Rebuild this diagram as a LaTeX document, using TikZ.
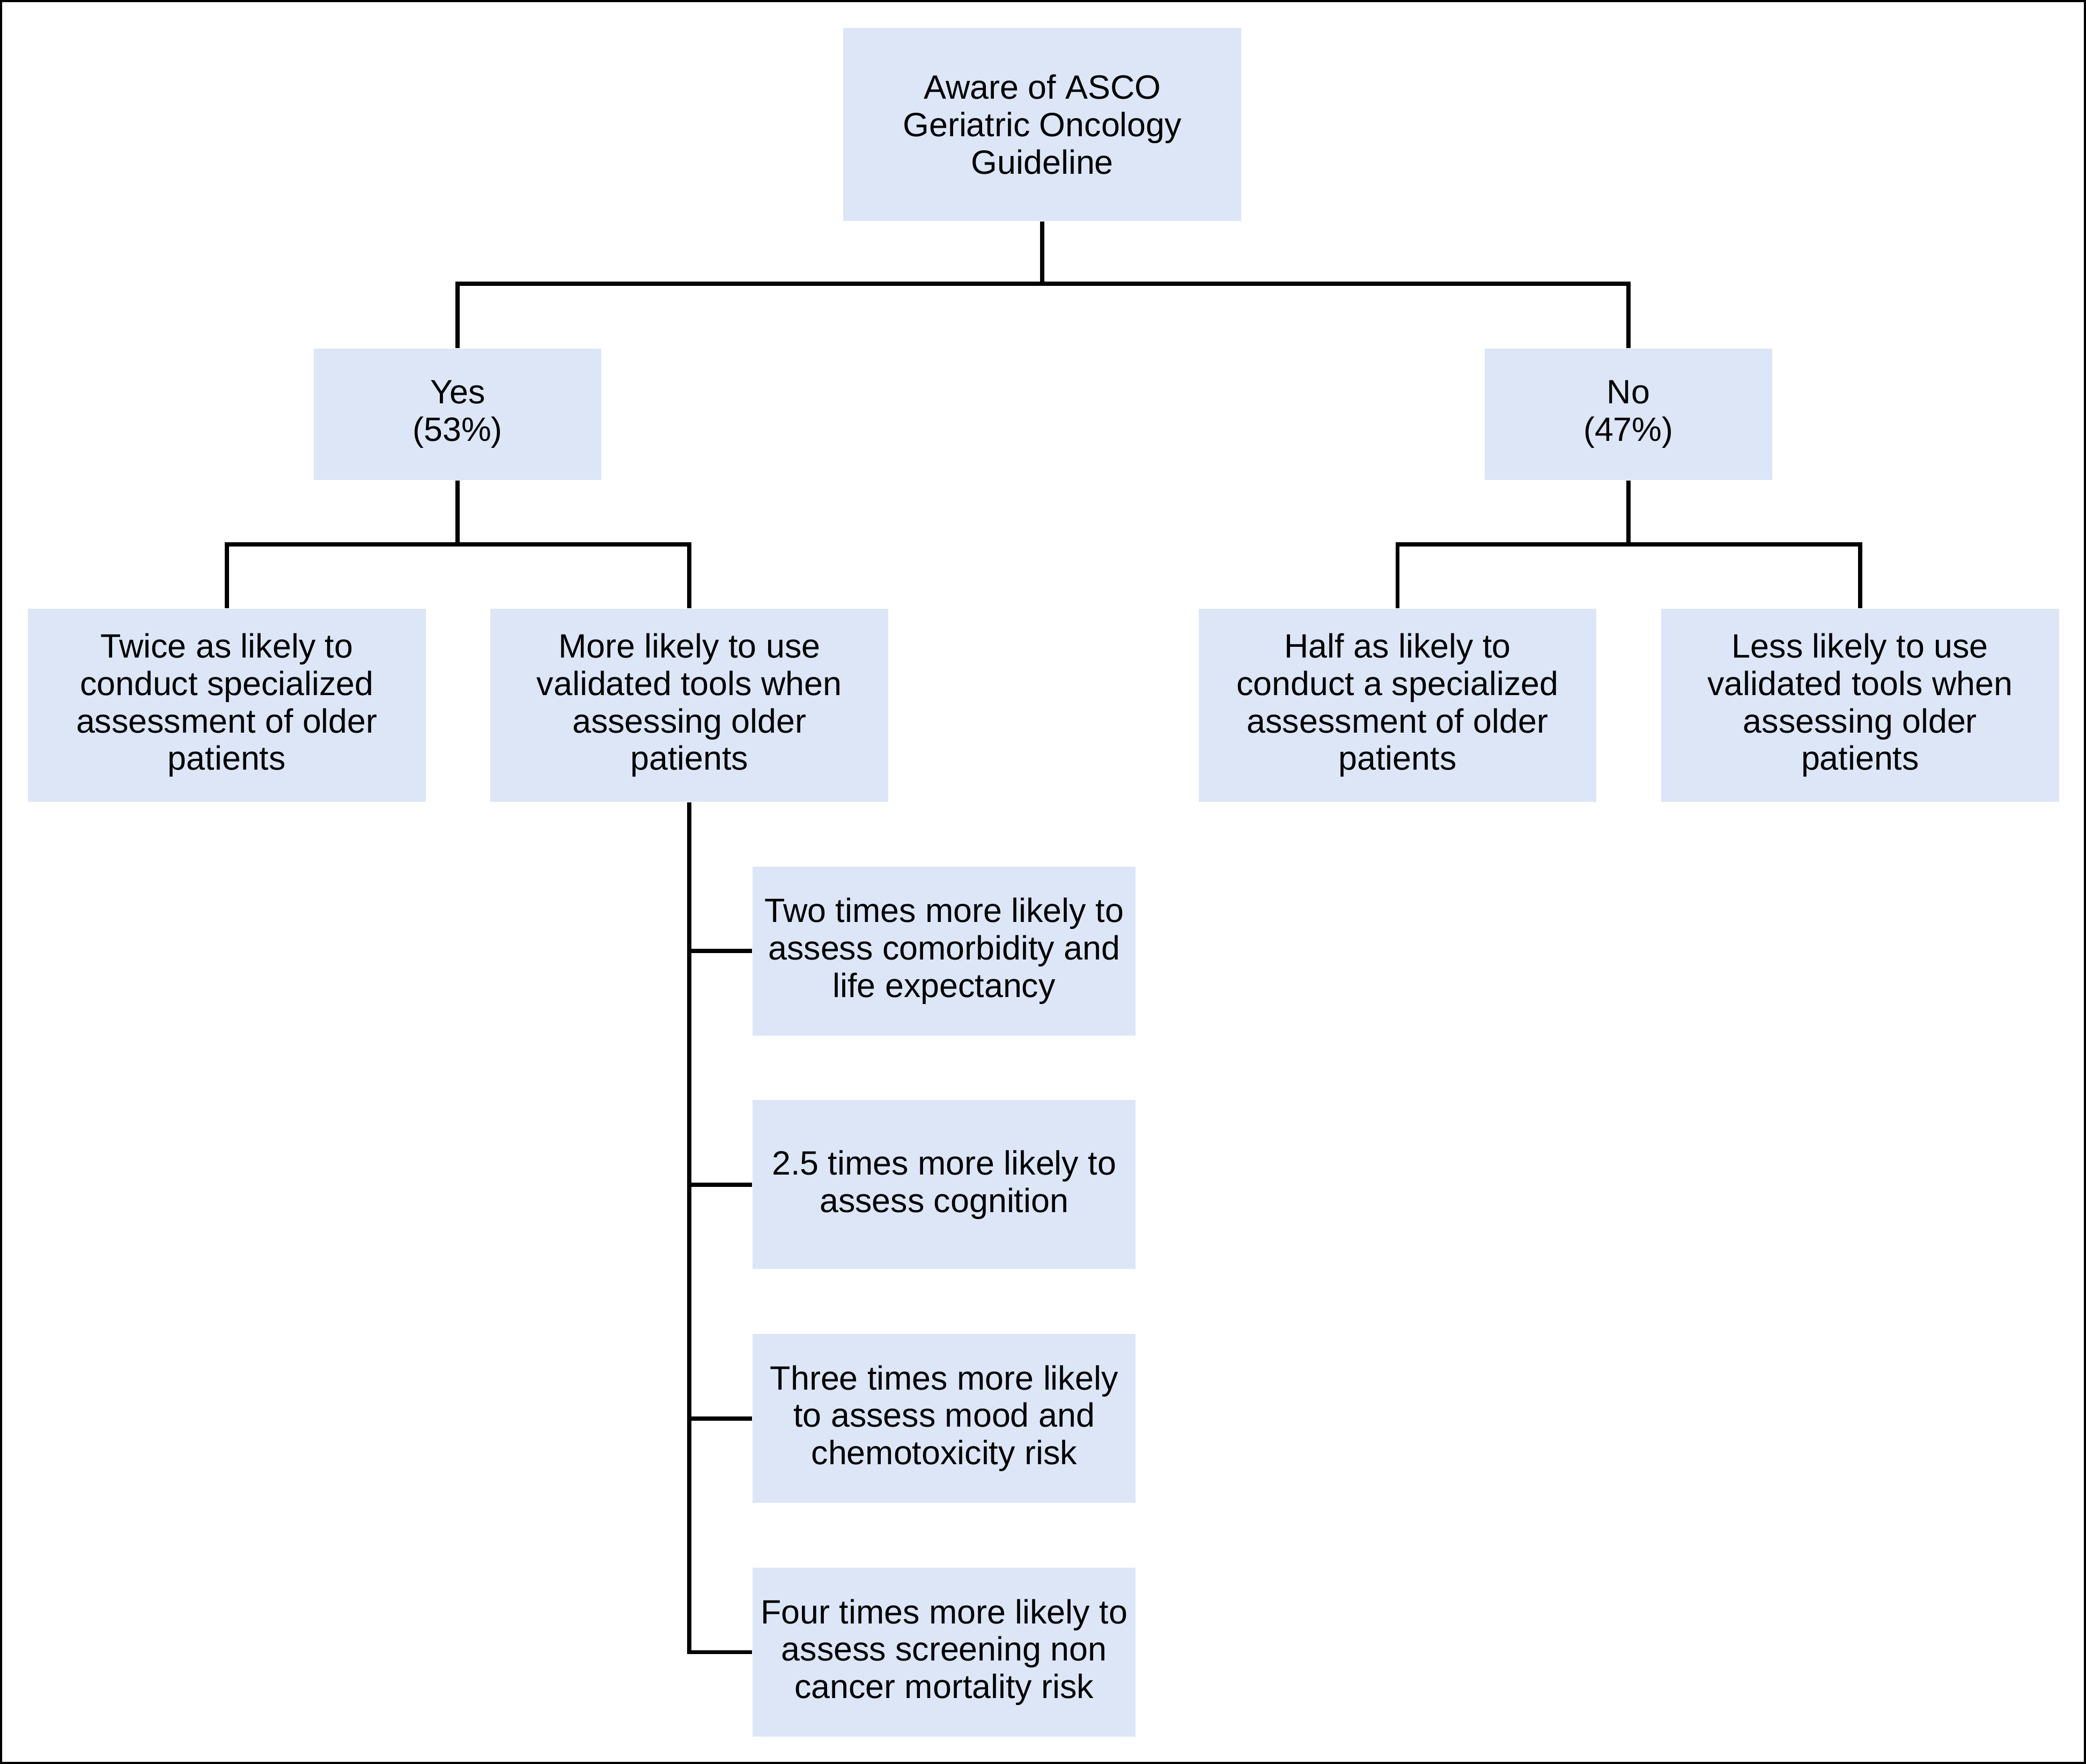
\documentclass[tikz,border=0pt]{standalone}
\usepackage{fontspec}
\setmainfont{Liberation Sans}
\usepackage{tikz}
\usetikzlibrary{positioning}

\definecolor{boxblue}{HTML}{DCE6F7}

\begin{document}
\begin{tikzpicture}[
  font=\fontsize{14.4pt}{16pt}\selectfont,
  box/.style={fill=boxblue, minimum width=5.98cm, minimum height=2.9cm, align=center, inner sep=1pt},
  ans/.style={box, minimum width=4.32cm, minimum height=1.98cm},
  sub/.style={box, minimum width=5.76cm, minimum height=2.54cm},
  link/.style={line width=1.8pt},
  node distance=1.92cm and 0.96cm
]
\useasboundingbox (0,0) rectangle (31.36,-26.52);
\draw[line width=0.9pt] (0.016,-0.016) rectangle (31.344,-26.504);

% ---------- TOP ----------
\node[box] (aware) at (15.67,-1.87) {Aware of ASCO\\Geriatric Oncology\\Guideline};
\node[ans] (yes) at (6.88,-6.23) {Yes\\(53\%)};
\node[ans] (no) at (24.48,-6.23) {No\\(47\%)};

\draw[link] (aware.south) -- ++(0,-0.94) coordinate (j0) -| (yes.north);
\draw[link] (j0) -| (no.north);

% ---------- YES BRANCH ----------
\node[box, below=of yes, xshift=-3.47cm] (twice) {Twice as likely to\\conduct specialized\\assessment of older\\patients};
\node[box, right=of twice] (more) {More likely to use\\validated tools when\\assessing older\\patients};

\draw[link] (yes.south) -- ++(0,-0.96) coordinate (j1) -| (twice.north);
\draw[link] (j1) -| (more.north);

% ---------- NO BRANCH ----------
\node[box, below=of no, xshift=-3.47cm] (half) {Half as likely to\\conduct a specialized\\assessment of older\\patients};
\node[box, right=of half] (less) {Less likely to use\\validated tools when\\assessing older\\patients};

\draw[link] (no.south) -- ++(0,-0.96) coordinate (j2) -| (half.north);
\draw[link] (j2) -| (less.north);

% ---------- TOOLS ----------
\node[sub, below=0.96cm of more, xshift=3.83cm] (s1) {Two times more likely to\\assess comorbidity and\\life expectancy};
\node[sub, below=0.96cm of s1] (s2) {2.5 times more likely to\\assess cognition};
\node[sub, below=0.96cm of s2] (s3) {Three times more likely\\to assess mood and\\chemotoxicity risk};
\node[sub, below=0.96cm of s3] (s4) {Four times more likely to\\assess screening non\\cancer mortality risk};

\draw[link] (more.south) |- (s4.west);
\foreach \s in {s1,s2,s3}
  \draw[link] (more.south |- \s.west) -- (\s.west);

\end{tikzpicture}
\end{document}
